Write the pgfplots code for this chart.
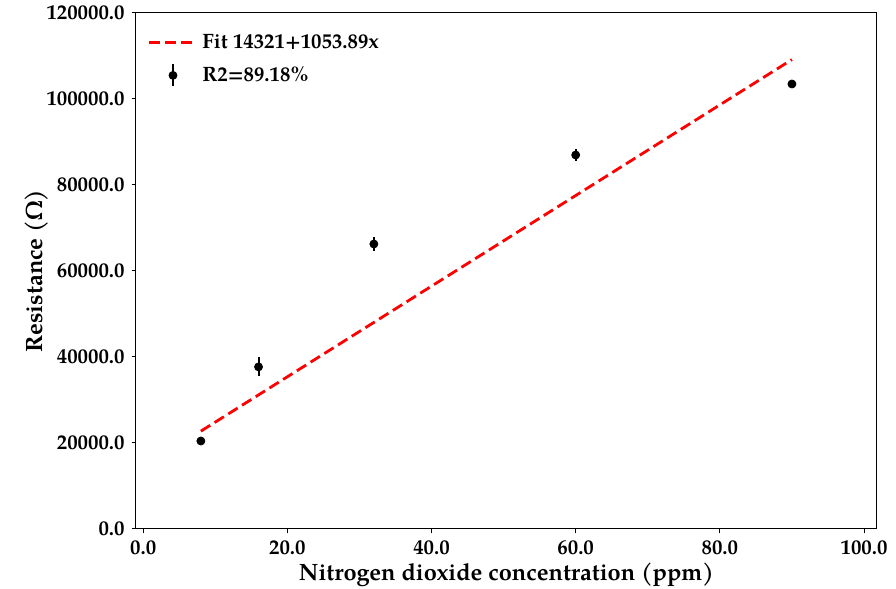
\documentclass[border=0pt]{standalone}
\usepackage{fontspec}
\setmainfont{TeX Gyre Pagella}
\usepackage{pgfplots}
\pgfplotsset{compat=1.18}
\begin{document}
\begin{tikzpicture}[font=\bfseries]
\useasboundingbox (-68pt,-30pt) rectangle (380pt,264.5pt);
\begin{axis}[
  at={(0pt,0pt)}, anchor=south west,
  scale only axis,
  width=370.5pt, height=258pt,
  xmin=-1, xmax=101.8,
  ymin=0, ymax=120000,
  xtick={0,20,40,60,80,100},
  ytick={0,20000,40000,60000,80000,100000,120000},
  scaled x ticks=false, scaled y ticks=false,
  xticklabels={0.0,20.0,40.0,60.0,80.0,100.0},
  yticklabels={0.0,20000.0,40000.0,60000.0,80000.0,100000.0,120000.0},
  ticklabel style={font=\fontsize{10.4}{12}\selectfont\bfseries},
  tick align=outside,
  xtick pos=left, ytick pos=left,
  major tick length=2.2pt,
  axis line style={line width=0.5pt},
  tick style={line width=0.5pt, black},
  xlabel={Nitrogen dioxide concentration (ppm)},
  ylabel={Resistance (Ω)},
  label style={font=\fontsize{11.8}{14}\selectfont\bfseries},
  ylabel style={at={(axis description cs:-0.1336,0.5)}, anchor=center},
  xlabel style={at={(axis description cs:0.5,-0.089)}, anchor=center},
  legend style={draw=none, fill=none, at={(0.007,0.975)}, anchor=north west,
    font=\fontsize{10.4}{12}\selectfont\bfseries, row sep=3.5pt},
  legend cell align=left,
]
\addplot[red, line width=1.4pt, dash pattern=on 5.5pt off 2.6pt,
  legend image code/.code={\draw[red, line width=1.4pt, dash pattern=on 5.5pt off 2.6pt] (0pt,0pt) -- (24pt,0pt);}]
  coordinates {(8,22752.1) (90,109171.1)};
\addlegendentry{Fit 14321+1053.89x}
\addplot[only marks, black, mark=*, mark size=2pt,
  legend image code/.code={\draw[black,line width=1pt] (12pt,-5.5pt) -- (12pt,5.5pt); \fill[black] (12pt,0pt) circle (2pt);},
  error bars/.cd, y dir=both, y explicit, error mark=none,
  error bar style={line width=1pt, black}]
  coordinates {
  (8,20465) +- (0,450)
  (16,37700) +- (0,2200)
  (32,66280) +- (0,1700)
  (60,86980) +- (0,1300)
  (90,103490) +- (0,800)
  };
\addlegendentry{R2=89.18\%}
\end{axis}
\end{tikzpicture}
\end{document}
